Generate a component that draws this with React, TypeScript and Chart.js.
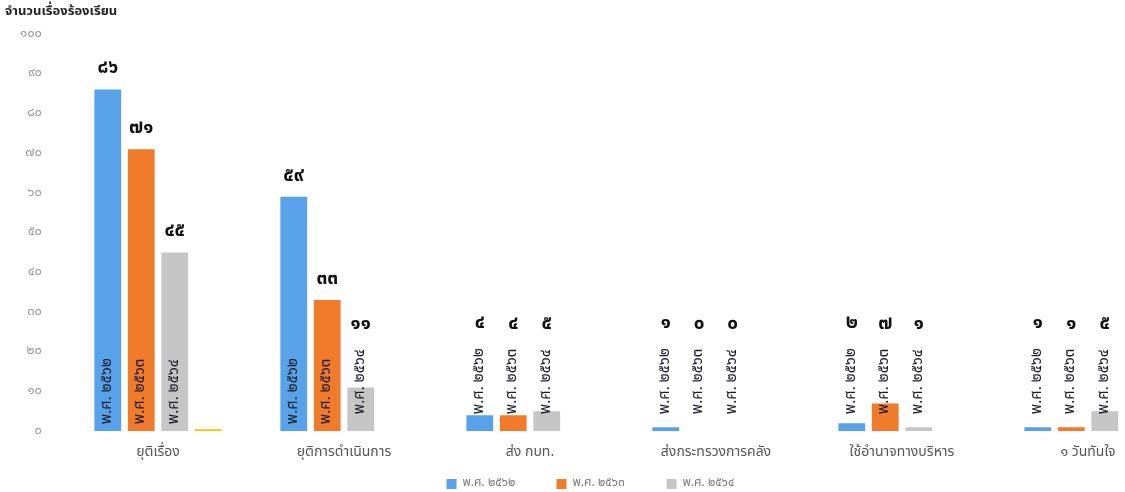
import React, { useEffect, useRef } from "react";
import { Chart, registerables } from "chart.js";

Chart.register(...registerables);

// Complaint outcomes by category, fiscal years 2562–2564
const categories = [
  "ยุติเรื่อง",
  "ยุติการดำเนินการ",
  "ส่ง กบท.",
  "ส่งกระทรวงการคลัง",
  "ใช้อำนาจทางบริหาร",
  "๑ วันทันใจ",
];
const seriesNames = ["พ.ศ. ๒๕๖๒", "พ.ศ. ๒๕๖๓", "พ.ศ. ๒๕๖๔"];
const values2562 = [86, 59, 4, 1, 2, 1];
const values2563 = [71, 33, 4, 0, 7, 1];
const values2564 = [45, 11, 5, 0, 1, 5];
// small unlabelled fourth series (only shows in the first category)
const valuesExtra = [0.5, null, null, null, null, null];
const yTickLabels = ["๐", "๑๐", "๒๐", "๓๐", "๔๐", "๕๐", "๖๐", "๗๐", "๘๐", "๙๐", "๑๐๐"];
const axisTitle = "จำนวนเรื่องร้องเรียน";

const seriesColors = ["#57A2E8", "#F07B2A", "#C6C6C6"];
const extraColor = "#FFC000";

const THAI_DIGITS = ["๐", "๑", "๒", "๓", "๔", "๕", "๖", "๗", "๘", "๙"];
const toThai = (n: number) => String(n).replace(/[0-9]/g, (d) => THAI_DIGITS[Number(d)]);

const FONT = "'Noto Sans Thai', 'Leelawadee UI', Tahoma, 'Noto Sans', sans-serif";

const barLabelPlugin = {
  id: "barLabels",
  afterDatasetsDraw(chart: any) {
    const ctx = chart.ctx;
    ctx.save();
    for (let di = 0; di < 3; di++) {
      const meta = chart.getDatasetMeta(di);
      const data = chart.data.datasets[di].data as number[];
      meta.data.forEach((el: any, i: number) => {
        const v = data[i];
        if (v == null) return;
        const x = el.x;
        const top = el.y;
        const base = el.base;
        const h = base - top;
        const name = seriesNames[di];
        ctx.font = `15px ${FONT}`;
        const tw = ctx.measureText(name).width;
        const bottom = h > tw + 16 ? base - 7 : base - 17;
        // series name written upward from the bar base
        ctx.save();
        ctx.translate(x, bottom);
        ctx.rotate(-Math.PI / 2);
        ctx.fillStyle = "#1d1d28";
        ctx.textAlign = "left";
        ctx.textBaseline = "middle";
        ctx.fillText(name, 0, 0);
        ctx.restore();
        // value above the bar or above the series name
        const labelTop = bottom - tw;
        const vy = Math.min(top - 20, labelTop - 24);
        ctx.font = `bold 19px ${FONT}`;
        ctx.fillStyle = "#111";
        ctx.textAlign = "center";
        ctx.textBaseline = "middle";
        ctx.fillText(toThai(v), x, vy);
      });
    }
    ctx.restore();
  },
  afterDraw(chart: any) {
    const ctx = chart.ctx;
    ctx.save();
    // axis caption, top left
    ctx.font = `bold 13px ${FONT}`;
    ctx.fillStyle = "#222";
    ctx.textAlign = "left";
    ctx.textBaseline = "middle";
    ctx.fillText(axisTitle, 5, 12);

    // legend row along the bottom
    ctx.font = `12px ${FONT}`;
    const pitch = 110;
    const box = 10;
    const gap = 6;
    const lastW = box + gap + ctx.measureText(seriesNames[2]).width;
    const groupW = pitch * 2 + lastW;
    const startX = chart.width / 2 - groupW / 2;
    const y = 484;
    seriesNames.forEach((name, i) => {
      const x0 = startX + pitch * i;
      ctx.fillStyle = seriesColors[i];
      ctx.fillRect(x0, y - box / 2, box, box);
      ctx.fillStyle = "#7a7a7a";
      ctx.textAlign = "left";
      ctx.textBaseline = "middle";
      ctx.fillText(name, x0 + box + gap, y);
    });
    ctx.restore();
  },
};

export default function App() {
  const canvasRef = useRef<HTMLCanvasElement | null>(null);

  useEffect(() => {
    document.body.style.margin = "0";
    const canvas = canvasRef.current;
    if (!canvas) return;
    const chart = new Chart(canvas, {
      type: "bar",
      data: {
        labels: categories,
        datasets: [
          { label: seriesNames[0], data: values2562, backgroundColor: seriesColors[0] },
          { label: seriesNames[1], data: values2563, backgroundColor: seriesColors[1] },
          { label: seriesNames[2], data: values2564, backgroundColor: seriesColors[2] },
          { label: "", data: valuesExtra as any, backgroundColor: extraColor },
        ],
      },
      options: {
        responsive: false,
        animation: false,
        devicePixelRatio: 1,
        datasets: {
          bar: { barPercentage: 0.8, categoryPercentage: 0.72 },
        },
        layout: { padding: { top: 34, left: 5, right: 0, bottom: 16 } },
        plugins: {
          legend: { display: false },
          tooltip: { enabled: false },
          title: { display: false },
        },
        scales: {
          x: {
            grid: { display: false, drawTicks: false },
            border: { display: false },
            ticks: { color: "#555", font: { size: 14, family: FONT }, padding: 14, maxRotation: 0 },
          },
          y: {
            min: 0,
            max: 100,
            afterFit: (scale: any) => {
              scale.width = 60;
            },
            grid: { display: false, drawTicks: false },
            border: { display: false },
            ticks: {
              stepSize: 10,
              padding: 23,
              color: "#9a9a9a",
              font: { size: 13, family: FONT },
              callback: (_v: any, idx: number) => yTickLabels[idx],
            },
          },
        },
      },
      plugins: [barLabelPlugin],
    });
    return () => chart.destroy();
  }, []);

  return (
    <div style={{ width: 1125, height: 492, overflow: "hidden", position: "relative" }}>
      <canvas ref={canvasRef} width={1181} height={492} style={{ display: "block" }} />
    </div>
  );
}
